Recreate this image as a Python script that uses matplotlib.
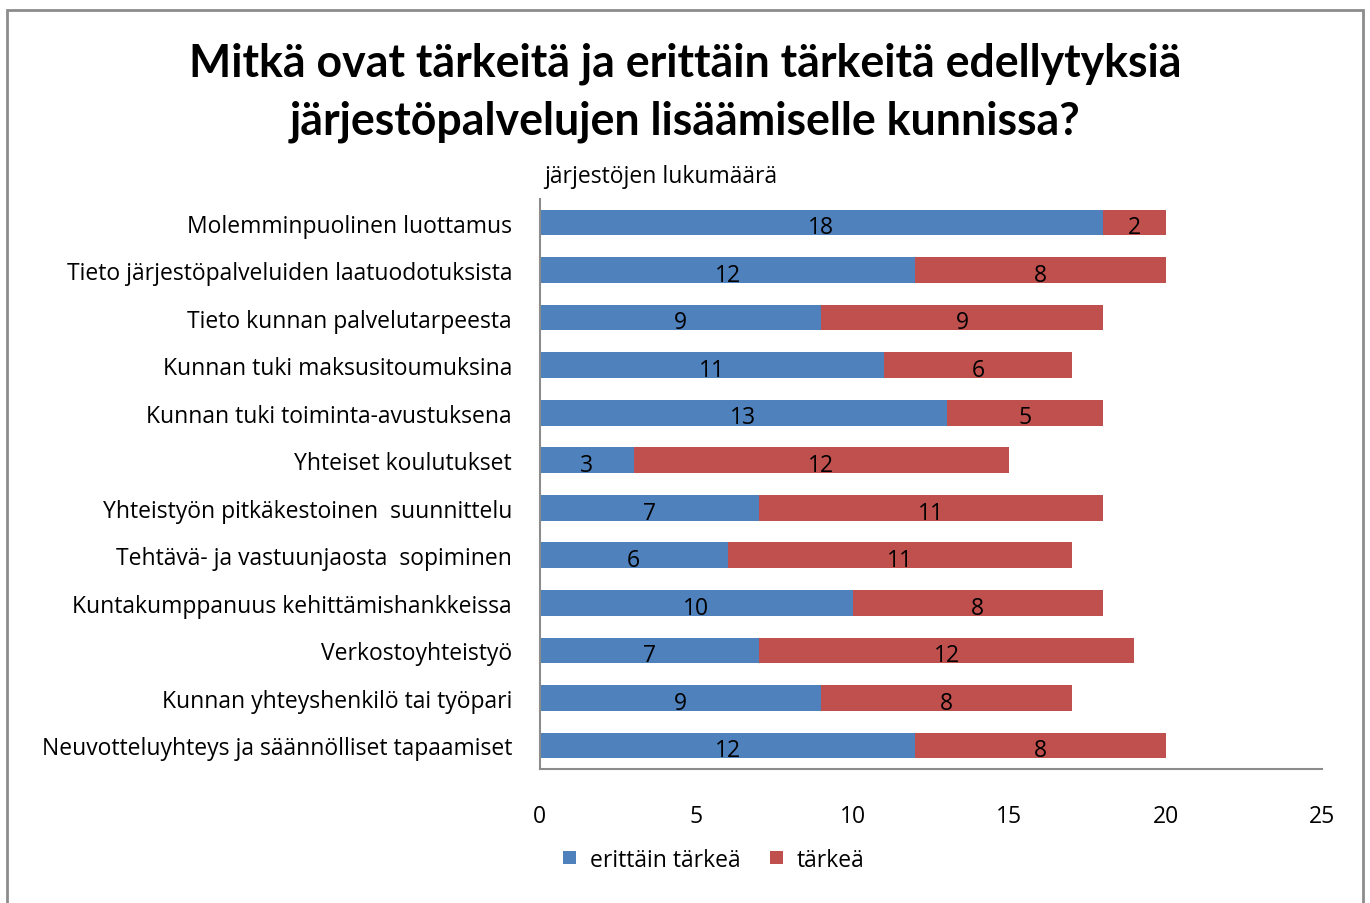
import matplotlib.pyplot as plt
from matplotlib.patches import Rectangle

plt.rcParams["font.family"] = ["Open Sans", "DejaVu Sans"]

categories = [
    "Molemminpuolinen luottamus",
    "Tieto järjestöpalveluiden laatuodotuksista",
    "Tieto kunnan palvelutarpeesta",
    "Kunnan tuki maksusitoumuksina",
    "Kunnan tuki toiminta-avustuksena",
    "Yhteiset koulutukset",
    "Yhteistyön pitkäkestoinen  suunnittelu",
    "Tehtävä- ja vastuunjaosta  sopiminen",
    "Kuntakumppanuus kehittämishankkeissa",
    "Verkostoyhteistyö",
    "Kunnan yhteyshenkilö tai työpari",
    "Neuvotteluyhteys ja säännölliset tapaamiset",
]
very_important = [18, 12, 9, 11, 13, 3, 7, 6, 10, 7, 9, 12]
important = [2, 8, 9, 6, 5, 12, 11, 11, 8, 12, 8, 8]

blue = "#4F81BD"
red = "#C0504D"
fs = 16.5

fig = plt.figure(figsize=(13.7, 9.04), dpi=100)
ax = fig.add_axes([0.394, 0.148, 0.571, 0.631])

y = list(range(len(categories)))
b1 = ax.barh(y, very_important, height=0.54, color=blue, label="erittäin tärkeä")
b2 = ax.barh(y, important, height=0.54, left=very_important, color=red, label="tärkeä")

# value labels, sitting a bit low in the bar like the original
for bars in (b1, b2):
    for bar in bars:
        w = bar.get_width()
        ax.text(bar.get_x() + w / 2, bar.get_y() + bar.get_height() / 2 + 0.1,
                f"{int(w)}", ha="center", va="center", fontsize=fs, color="black")

ax.set_xlim(0, 25)
ax.set_ylim(len(categories) - 0.5, -0.5)
ax.set_xticks([0, 5, 10, 15, 20, 25])
ax.set_yticks(y)
ax.set_yticklabels(categories)
ax.tick_params(axis="x", length=0, pad=25, labelsize=fs)
ax.tick_params(axis="y", length=0, pad=20, labelsize=fs)

for s in ("top", "right"):
    ax.spines[s].set_visible(False)
for s in ("left", "bottom"):
    ax.spines[s].set_color("#8c8c8c")
    ax.spines[s].set_linewidth(1.5)

title_font = ["Lato", "DejaVu Sans"]
fig.text(0.5, 0.929, "Mitkä ovat tärkeitä ja erittäin tärkeitä edellytyksiä",
         ha="center", va="center", fontsize=32.1, fontweight="bold", family=title_font)
fig.text(0.5, 0.865, "järjestöpalvelujen lisäämiselle kunnissa?",
         ha="center", va="center", fontsize=32.1, fontweight="bold", family=title_font)
fig.text(0.397, 0.804, "järjestöjen lukumäärä", ha="left", va="center", fontsize=fs)

fig.legend(handles=[b1, b2], loc="center", bbox_to_anchor=(0.521, 0.048), ncol=2,
           frameon=False, fontsize=fs, handlelength=0.55, handleheight=0.55,
           columnspacing=1.3, handletextpad=0.6)

fig.patches.append(Rectangle((0.005, -0.01), 0.99, 0.998, transform=fig.transFigure,
                             fill=False, edgecolor="#8c8c8c", linewidth=2))

fig.savefig("out.png", dpi=100)
